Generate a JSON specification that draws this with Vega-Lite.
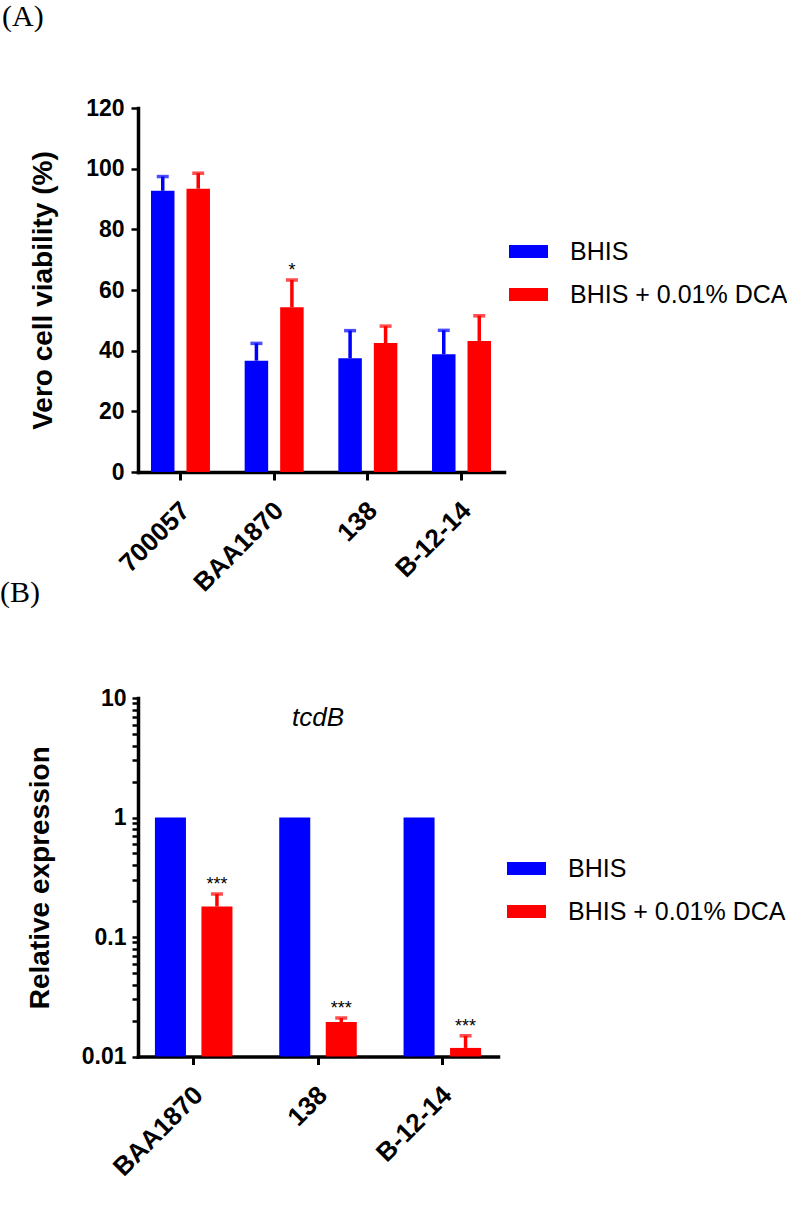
{
  "$schema": "https://vega.github.io/schema/vega-lite/v6.json",
  "padding": {"left": 0, "top": 2, "right": 0, "bottom": 0},
  "spacing": 226,
  "bounds": "flush",
  "datasets": {
    "viab": [
      {"strain": "700057", "cond": "BHIS", "mean": 92.7, "hi": 97.4, "sig": null},
      {"strain": "700057", "cond": "BHIS + 0.01% DCA", "mean": 93.4, "hi": 98.5, "sig": null},
      {"strain": "BAA1870", "cond": "BHIS", "mean": 36.7, "hi": 42.4, "sig": null},
      {"strain": "BAA1870", "cond": "BHIS + 0.01% DCA", "mean": 54.3, "hi": 63.3, "sig": "*"},
      {"strain": "138", "cond": "BHIS", "mean": 37.5, "hi": 46.6, "sig": null},
      {"strain": "138", "cond": "BHIS + 0.01% DCA", "mean": 42.5, "hi": 48.1, "sig": null},
      {"strain": "B-12-14", "cond": "BHIS", "mean": 38.8, "hi": 46.7, "sig": null},
      {"strain": "B-12-14", "cond": "BHIS + 0.01% DCA", "mean": 43.2, "hi": 51.5, "sig": null}
    ],
    "expr": [
      {"strain": "BAA1870", "cond": "BHIS", "mean": 1, "hi": null, "sig": null},
      {"strain": "BAA1870", "cond": "BHIS + 0.01% DCA", "mean": 0.18, "hi": 0.229, "sig": "***"},
      {"strain": "138", "cond": "BHIS", "mean": 1, "hi": null, "sig": null},
      {"strain": "138", "cond": "BHIS + 0.01% DCA", "mean": 0.0194, "hi": 0.021, "sig": "***"},
      {"strain": "B-12-14", "cond": "BHIS", "mean": 1, "hi": null, "sig": null},
      {"strain": "B-12-14", "cond": "BHIS + 0.01% DCA", "mean": 0.0118, "hi": 0.0149, "sig": "***"}
    ]
  },
  "config": {
    "view": {"stroke": null},
    "font": "Liberation Sans",
    "axis": {
      "domainColor": "black", "tickColor": "black", "labelColor": "black", "titleColor": "black",
      "grid": false, "labelFont": "Liberation Sans", "titleFont": "Liberation Sans",
      "labelFontWeight": "bold", "titleFontWeight": "bold", "labelFontSize": 23, "titleFontSize": 28,
      "domainWidth": 3.5, "domainCap": "square"
    },
    "axisX": {"labelFontSize": 26, "labelAngle": -45, "tickSize": 8, "tickWidth": 3, "labelPadding": 17, "labelOffset": -4},
    "title": {"font": "Liberation Serif", "fontSize": 30, "fontWeight": "normal", "color": "black", "anchor": "start", "frame": "group"},
    "legend": {"orient": "none", "title": null,
      "symbolType": "M-1,-0.333H1V0.333H-1Z", "symbolSize": 1521, "symbolStrokeWidth": 0,
      "labelFontSize": 25, "labelFont": "Liberation Sans", "labelColor": "black", "labelOffset": 22, "labelLimit": 400, "rowPadding": 10, "padding": 0}
  },
  "resolve": {"scale": {"color": "independent", "x": "independent", "y": "independent", "xOffset": "independent"}},
  "vconcat": [
    {
      "width": 366,
      "height": 364,
      "title": {"text": "(A)", "dx": -136, "offset": 65},
      "data": {"name": "viab"},
      "layer": [
        {
          "mark": {"type": "bar"},
          "encoding": {
            "x": {"field": "strain", "type": "nominal",
              "scale": {"domain": ["700057", "BAA1870", "138", "B-12-14"], "paddingInner": 0.093, "paddingOuter": 0},
              "axis": {"title": null}},
            "xOffset": {"field": "cond", "type": "nominal", "scale": {"domain": ["BHIS", "BHIS + 0.01% DCA"], "paddingInner": 0.338, "paddingOuter": 0.366}},
            "y": {"field": "mean", "type": "quantitative", "scale": {"domain": [0, 120]},
              "axis": {"title": "Vero cell viability (%)", "values": [0, 20, 40, 60, 80, 100, 120], "tickSize": 7, "tickWidth": 2.5, "labelPadding": 7, "titlePadding": 28}},
            "color": {"field": "cond", "type": "nominal",
              "scale": {"domain": ["BHIS", "BHIS + 0.01% DCA"], "range": ["#0000FF", "#FF0000"]},
              "legend": {"legendX": 371, "legendY": 124}}
          }
        },
        {
          "transform": [{"filter": "datum.hi != null"}],
          "mark": {"type": "rule", "strokeWidth": 3.5},
          "encoding": {
            "x": {"field": "strain", "type": "nominal"},
            "xOffset": {"field": "cond", "type": "nominal"},
            "y": {"field": "mean", "type": "quantitative"},
            "y2": {"field": "hi"},
            "color": {"field": "cond", "type": "nominal", "legend": null}
          }
        },
        {
          "transform": [{"filter": "datum.hi != null"}],
          "mark": {"type": "tick", "size": 12, "thickness": 3.5},
          "encoding": {
            "x": {"field": "strain", "type": "nominal"},
            "xOffset": {"field": "cond", "type": "nominal"},
            "y": {"field": "hi", "type": "quantitative"},
            "color": {"field": "cond", "type": "nominal", "legend": null}
          }
        },
        {
          "transform": [{"filter": "datum.sig != null"}],
          "mark": {"type": "text", "dy": -4, "baseline": "alphabetic", "fontSize": 18, "font": "Liberation Sans", "color": "black"},
          "encoding": {
            "x": {"field": "strain", "type": "nominal"},
            "xOffset": {"field": "cond", "type": "nominal"},
            "y": {"field": "hi", "type": "quantitative"},
            "text": {"field": "sig"}
          }
        }
      ]
    },
    {
      "width": 360,
      "height": 358.5,
      "title": {"text": "(B)", "dx": -138, "offset": 79},
      "data": {"name": "expr"},
      "layer": [
        {
          "mark": {"type": "bar"},
          "encoding": {
            "x": {"field": "strain", "type": "nominal",
              "scale": {"domain": ["BAA1870", "138", "B-12-14"], "paddingInner": 0.104, "paddingOuter": 0},
              "axis": {"title": null}},
            "xOffset": {"field": "cond", "type": "nominal", "scale": {"domain": ["BHIS", "BHIS + 0.01% DCA"], "paddingInner": 0.333, "paddingOuter": 0.364}},
            "y": {"field": "mean", "type": "quantitative", "scale": {"type": "log", "domain": [0.01, 10]},
              "axis": {"title": "Relative expression",
                "values": [0.01, 0.02, 0.03, 0.04, 0.05, 0.06, 0.07, 0.08, 0.09, 0.1, 0.2, 0.3, 0.4, 0.5, 0.6, 0.7, 0.8, 0.9, 1, 2, 3, 4, 5, 6, 7, 8, 9, 10],
                "tickCount": 40, "labelOverlap": false,
                "labelExpr": "datum.value == 10 ? '10' : datum.value == 1 ? '1' : datum.value == 0.1 ? '0.1' : datum.value == 0.01 ? '0.01' : ''",
                "tickSize": 6, "tickWidth": 2.5, "labelPadding": 6, "titlePadding": 27}},
            "y2": {"datum": 0.01},
            "color": {"field": "cond", "type": "nominal",
              "scale": {"domain": ["BHIS", "BHIS + 0.01% DCA"], "range": ["#0000FF", "#FF0000"]},
              "legend": {"legendX": 369, "legendY": 151}}
          }
        },
        {
          "transform": [{"filter": "datum.hi != null"}],
          "mark": {"type": "rule", "strokeWidth": 3.5},
          "encoding": {
            "x": {"field": "strain", "type": "nominal"},
            "xOffset": {"field": "cond", "type": "nominal"},
            "y": {"field": "mean", "type": "quantitative"},
            "y2": {"field": "hi"},
            "color": {"field": "cond", "type": "nominal", "legend": null}
          }
        },
        {
          "transform": [{"filter": "datum.hi != null"}],
          "mark": {"type": "tick", "size": 12, "thickness": 3.5},
          "encoding": {
            "x": {"field": "strain", "type": "nominal"},
            "xOffset": {"field": "cond", "type": "nominal"},
            "y": {"field": "hi", "type": "quantitative"},
            "color": {"field": "cond", "type": "nominal", "legend": null}
          }
        },
        {
          "transform": [{"filter": "datum.sig != null"}],
          "mark": {"type": "text", "dy": -4, "baseline": "alphabetic", "fontSize": 18, "font": "Liberation Sans", "color": "black"},
          "encoding": {
            "x": {"field": "strain", "type": "nominal"},
            "xOffset": {"field": "cond", "type": "nominal"},
            "y": {"field": "hi", "type": "quantitative"},
            "text": {"field": "sig"}
          }
        },
        {
          "data": {"values": [{"gene": "tcdB"}]},
          "mark": {"type": "text", "fontStyle": "italic", "fontSize": 26, "font": "Liberation Sans", "color": "black"},
          "encoding": {
            "x": {"datum": "138"},
            "y": {"datum": 6.8},
            "text": {"field": "gene"}
          }
        }
      ]
    }
  ]
}
